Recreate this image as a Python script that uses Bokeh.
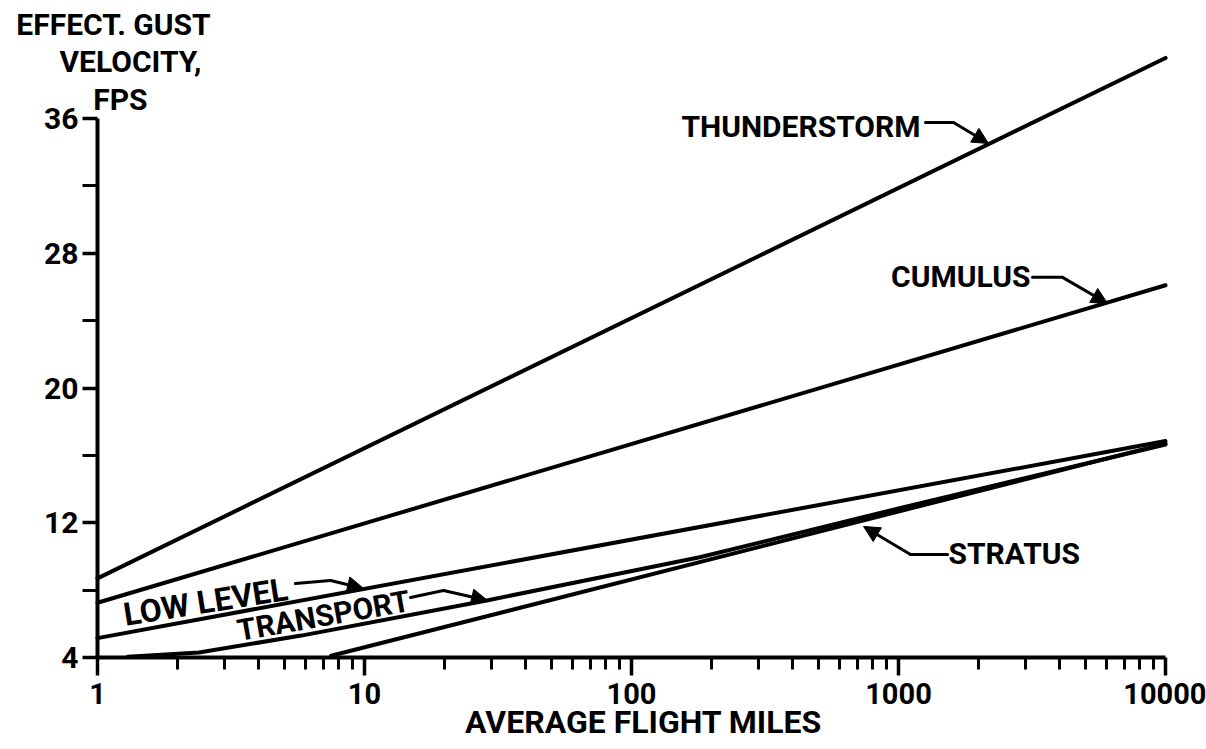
from bokeh.plotting import figure
from bokeh.models import FixedTicker, Label, Arrow, NormalHead, Range1d, NumeralTickFormatter
from bokeh.embed import file_html
from bokeh.resources import INLINE

# ---- data ----
thunder_x = [1, 10000]
thunder_y = [8.7, 39.6]

cumulus_x = [1, 10000]
cumulus_y = [7.25, 26.1]

lowlevel_x = [1, 10000]
lowlevel_y = [5.15, 16.85]

transport_x = [1.3, 2.4, 5.8, 29, 180, 1000, 10000]
transport_y = [4.05, 4.3, 5.3, 7.4, 9.95, 12.85, 16.65]

stratus_x = [7.5, 10000]
stratus_y = [4.1, 16.7]

x_ticks = [1, 10, 100, 1000, 10000]
x_minor = [m * 10 ** d for d in range(4) for m in range(2, 10)]
y_ticks = [4, 12, 20, 28, 36]
y_minor = [8, 16, 24, 32]

# annotation texts: (text, x, y, align, angle_deg, size)
labels = [
    ("THUNDERSTORM", 1209, 35.53, "right", 0, "30px"),
    ("CUMULUS", 3122, 26.62, "right", 0, "30px"),
    ("STRATUS", 1539, 10.15, "left", 0, "30px"),
    ("LOW LEVEL", 2.54, 7.3, "center", 9, "32px"),
    ("TRANSPORT", 7.02, 6.49, "center", 10, "30px"),
]
# leader arrows: (start, bend, tip)
leaders = [
    ((1262, 35.77), (1607, 35.77), (2173, 34.52)),
    ((3176, 26.57), (4113, 26.57), (6066, 25.02)),
    ((5.51, 8.39), (7.46, 8.57), (9.92, 8.10)),
    ((14.87, 7.56), (19.76, 7.98), (28.9, 7.38)),
    ((1526, 10.12), (1109, 10.12), (739.6, 11.78)),
]
y_title = ["EFFECT. GUST", "VELOCITY,", "FPS"]
y_title_pos = [(1.148, 41.59), (1.329, 39.39), (1.219, 37.14)]
x_title = "AVERAGE FLIGHT MILES"
x_title_pos = (110.9, 0.14)

FONT = "Roboto"

p = figure(width=1206, height=748, x_axis_type="log",
           x_range=Range1d(0.4333, 14238), y_range=Range1d(-1.404, 43.01),
           output_backend="svg", toolbar_location=None,
           min_border=0, min_border_left=0, min_border_right=0,
           min_border_top=0, min_border_bottom=0)
p.outline_line_color = None
p.grid.visible = False
p.background_fill_color = "white"
p.border_fill_color = "white"

for ax in (p.xaxis[0], p.yaxis[0]):
    ax.axis_line_width = 4
    ax.axis_line_color = "black"
    ax.major_tick_line_width = 3.5
    ax.minor_tick_line_width = 3
    ax.major_tick_line_color = "black"
    ax.minor_tick_line_color = "black"
    ax.major_tick_in = 0
    ax.minor_tick_in = 0
    ax.major_label_text_font = FONT
    ax.major_label_text_font_style = "bold"
    ax.major_label_text_color = "black"

p.yaxis.fixed_location = 1
p.yaxis.ticker = FixedTicker(ticks=y_ticks, minor_ticks=y_minor)
p.yaxis.bounds = (4, 36)
p.yaxis.major_tick_out = 15
p.yaxis.minor_tick_out = 15
p.yaxis.major_label_text_font_size = "30px"
p.yaxis.major_label_standoff = 4

p.xaxis.fixed_location = 4
p.xaxis.ticker = FixedTicker(ticks=x_ticks, minor_ticks=x_minor)
p.xaxis.formatter = NumeralTickFormatter(format="0")
p.xaxis.bounds = (1, 10000)
p.xaxis.major_tick_out = 18
p.xaxis.minor_tick_out = 12
p.xaxis.major_label_text_font_size = "29px"
p.xaxis.major_label_standoff = 8

for xs, ys in [(thunder_x, thunder_y), (cumulus_x, cumulus_y),
               (lowlevel_x, lowlevel_y), (transport_x, transport_y),
               (stratus_x, stratus_y)]:
    p.line(xs, ys, line_width=4, line_color="black", line_cap="round", line_join="round")

for text, x, y, align, ang, size in labels:
    p.add_layout(Label(x=x, y=y, text=text, text_align=align, text_baseline="middle",
                       angle=ang, angle_units="deg", text_font=FONT,
                       text_font_style="bold", text_font_size=size, text_color="black"))

for (s, b, t) in leaders:
    p.line([s[0], b[0]], [s[1], b[1]], line_width=3, line_color="black", line_cap="round")
    p.add_layout(Arrow(end=NormalHead(size=16, fill_color="black", line_color="black", line_width=1),
                       x_start=b[0], y_start=b[1], x_end=t[0], y_end=t[1],
                       line_width=3, line_color="black"))

for text, (x, y) in zip(y_title, y_title_pos):
    p.add_layout(Label(x=x, y=y, text=text, text_align="center", text_baseline="middle",
                       text_font=FONT, text_font_style="bold", text_font_size="30px",
                       text_color="black"))

p.add_layout(Label(x=x_title_pos[0], y=x_title_pos[1], text=x_title, text_align="center",
                   text_baseline="middle", text_font=FONT, text_font_style="bold",
                   text_font_size="32px", text_color="black"))

open("out.html", "w").write(file_html(p, INLINE))
